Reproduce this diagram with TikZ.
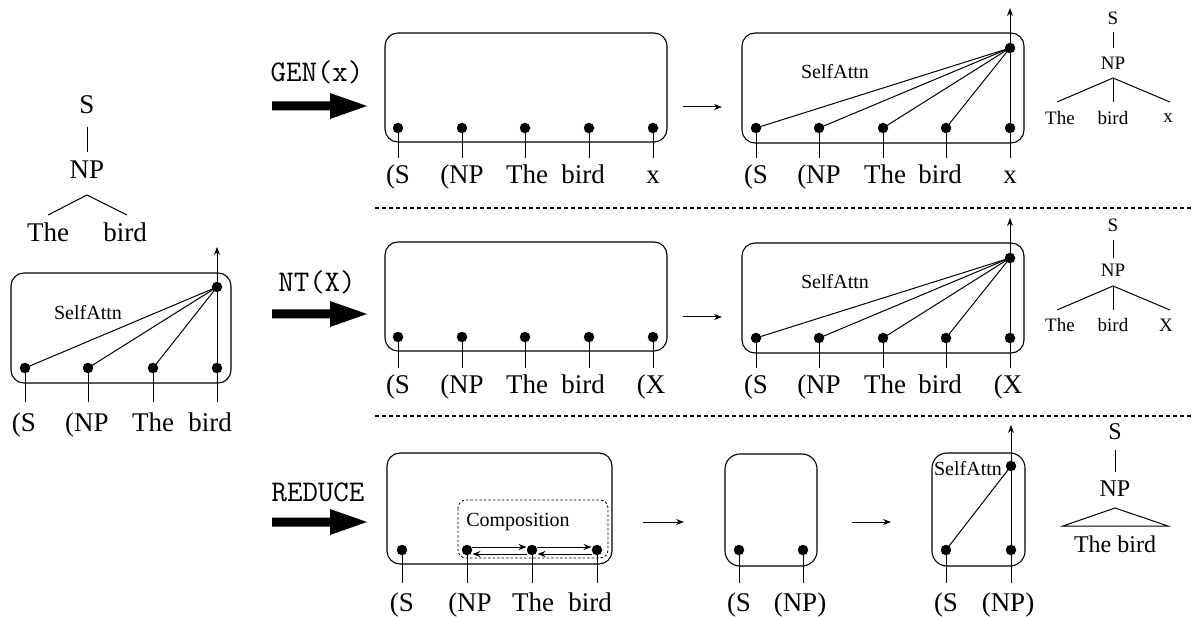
\documentclass[tikz,border=0pt]{standalone}
\usepackage{fontspec}
\setmainfont{Liberation Serif}
\usetikzlibrary{arrows.meta}
\begin{document}
\begin{tikzpicture}[x=1pt,y=-1pt,
  dot/.style={circle,fill,inner sep=0pt,minimum size=10.5pt},
  box/.style={draw,rounded corners=13pt,line width=1.1pt},
  big/.style={font=\fontsize{27}{30}\selectfont,inner sep=0pt},
  med/.style={font=\fontsize{24}{27}\selectfont,inner sep=0pt},
  sm/.style={font=\fontsize{19}{22}\selectfont,inner sep=0pt},
  attn/.style={font=\fontsize{20}{23}\selectfont,inner sep=0pt},
  op/.style={font=\ttfamily\fontsize{30}{33}\selectfont,inner sep=0pt},
  ln/.style={line width=1pt},
  arr/.style={line width=1pt,-{Stealth[length=8pt,width=6pt]}},
  sep/.style={line width=1.1pt,dash pattern=on 4pt off 3pt},
  comp/.style={draw,rounded corners=8pt,line width=0.8pt,dash pattern=on 2.5pt off 2pt}
]
\useasboundingbox (0,0) rectangle (1192,617);

% ---------- left panel ----------
\node[big] (lS) at (87,105) {S};
\node[big] (lNP) at (87,170) {NP};
\draw[ln] (lS.center) ++(0,22) -- ++(0,25);
\coordinate (lo) at (87,195);
\coordinate (le1) at (48,215);
\coordinate (le2) at (127,215);
\draw[ln] (le1) -- (lo) -- (le2);
\node[big] (lThe) at (48,232) {The};
\node[big] (lbird) at (125,232) {bird};

\draw[box] (11,273) rectangle (231,383);
\node[attn] (lattn) at (88,313) {SelfAttn};
\node[dot] (lt) at (217,287) {};
\coordinate (ltip) at (217,247);
\foreach \n/\x in {1/25,2/88,3/153,4/217}{
  \node[dot] (l\n) at (\x,368) {};
  \coordinate (ls\n) at (\x,402);
  \draw[ln] (l\n.center) -- (ls\n);
}
\foreach \n in {1,2,3} \draw[ln] (l\n.center) -- (lt.center);
\draw[arr] (l4.center) -- (ltip);
\node[big,anchor=base] (ll1) at (24,432) {(S};
\node[big,anchor=base] (ll2) at (87,432) {(NP};
\node[big,anchor=base] (ll3) at (153,432) {The};
\node[big,anchor=base] (ll4) at (210,432) {bird};

% ---------- row 1 : GEN(x) ----------
\node[op] (op1) at (317,72) {GEN(x)};
\fill (272,101.5) -- (330,101.5) -- (330,93) -- (367,106) -- (330,119) -- (330,110.5) -- (272,110.5) -- cycle;

\draw[box] (385,33) rectangle (667,142);
\foreach \n/\x in {1/398,2/462,3/525,4/589,5/653}{
  \node[dot] (a\n) at (\x,128) {};
  \coordinate (as\n) at (\x,158);
  \draw[ln] (a\n.center) -- (as\n);
}
\node[big,anchor=base] (al1) at (398,184) {(S};
\node[big,anchor=base] (al2) at (462,184) {(NP};
\node[big,anchor=base] (al3) at (527,184) {The};
\node[big,anchor=base] (al4) at (583,184) {bird};
\node[big,anchor=base] (al5) at (653,184) {x};

\coordinate (r1f) at (683,107);
\coordinate (r1t) at (722,107);
\draw[arr] (r1f) -- (r1t);

\draw[box] (742,33) rectangle (1024,143);
\node[attn] (battn) at (835,72) {SelfAttn};
\node[dot] (bt) at (1010,48) {};
\coordinate (btip) at (1010,8);
\foreach \n/\x in {1/756,2/819,3/883,4/946,5/1010}{
  \node[dot] (b\n) at (\x,128) {};
  \coordinate (bs\n) at (\x,158);
  \draw[ln] (b\n.center) -- (bs\n);
}
\foreach \n in {1,2,3,4} \draw[ln] (b\n.center) -- (bt.center);
\draw[arr] (b5.center) -- (btip);
\node[big,anchor=base] (bl1) at (756,184) {(S};
\node[big,anchor=base] (bl2) at (819,184) {(NP};
\node[big,anchor=base] (bl3) at (885,184) {The};
\node[big,anchor=base] (bl4) at (940,184) {bird};
\node[big,anchor=base] (bl5) at (1010,184) {x};

\node[sm] (t1S) at (1113,18) {S};
\node[sm] (t1NP) at (1113,63) {NP};
\draw[ln] (t1S.center) ++(0,14) -- ++(0,16);
\coordinate (t1o) at (1113,78);
\coordinate (t1e1) at (1057,102);
\coordinate (t1e2) at (1113,102);
\coordinate (t1e3) at (1170,102);
\draw[ln] (t1e1) -- (t1o) -- (t1e3);
\draw[ln] (t1o) -- (t1e2);
\node[sm] (t1a) at (1060,118) {The};
\node[sm] (t1b) at (1113,118) {bird};
\node[sm] (t1c) at (1168,118) {x};

\coordinate (d1a) at (375,208);
\coordinate (d1b) at (1192,208);
\draw[sep] (d1a) -- (d1b);

% ---------- row 2 : NT(X) ----------
\node[op] (op2) at (317,282) {NT(X)};
\fill (272,309.5) -- (330,309.5) -- (330,301) -- (367,314) -- (330,327) -- (330,318.5) -- (272,318.5) -- cycle;

\draw[box] (385,242) rectangle (667,351);
\foreach \n/\x in {1/398,2/462,3/525,4/589,5/653}{
  \node[dot] (c\n) at (\x,337) {};
  \coordinate (cs\n) at (\x,368);
  \draw[ln] (c\n.center) -- (cs\n);
}
\node[big,anchor=base] (cl1) at (398,394) {(S};
\node[big,anchor=base] (cl2) at (462,394) {(NP};
\node[big,anchor=base] (cl3) at (527,394) {The};
\node[big,anchor=base] (cl4) at (583,394) {bird};
\node[big,anchor=base] (cl5) at (651,394) {(X};

\coordinate (r2f) at (683,317);
\coordinate (r2t) at (722,317);
\draw[arr] (r2f) -- (r2t);

\draw[box] (742,243) rectangle (1024,353);
\node[attn] (dattn) at (835,282) {SelfAttn};
\node[dot] (dt) at (1010,258) {};
\coordinate (dtip) at (1010,218);
\foreach \n/\x in {1/756,2/819,3/883,4/946,5/1010}{
  \node[dot] (d\n) at (\x,338) {};
  \coordinate (ds\n) at (\x,368);
  \draw[ln] (d\n.center) -- (ds\n);
}
\foreach \n in {1,2,3,4} \draw[ln] (d\n.center) -- (dt.center);
\draw[arr] (d5.center) -- (dtip);
\node[big,anchor=base] (dl1) at (756,394) {(S};
\node[big,anchor=base] (dl2) at (819,394) {(NP};
\node[big,anchor=base] (dl3) at (885,394) {The};
\node[big,anchor=base] (dl4) at (940,394) {bird};
\node[big,anchor=base] (dl5) at (1008,394) {(X};

\node[sm] (t2S) at (1113,225) {S};
\node[sm] (t2NP) at (1113,270) {NP};
\draw[ln] (t2S.center) ++(0,15) -- ++(0,18);
\coordinate (t2o) at (1113,286);
\coordinate (t2e1) at (1057,310);
\coordinate (t2e2) at (1113,310);
\coordinate (t2e3) at (1170,310);
\draw[ln] (t2e1) -- (t2o) -- (t2e3);
\draw[ln] (t2o) -- (t2e2);
\node[sm] (t2a) at (1060,325) {The};
\node[sm] (t2b) at (1113,325) {bird};
\node[sm] (t2c) at (1166,325) {X};

\coordinate (d2a) at (375,416);
\coordinate (d2b) at (1192,416);
\draw[sep] (d2a) -- (d2b);

% ---------- row 3 : REDUCE ----------
\node[op] (op3) at (318,492) {REDUCE};
\fill (272,517.5) -- (330,517.5) -- (330,509) -- (367,522) -- (330,535) -- (330,526.5) -- (272,526.5) -- cycle;

\draw[box] (387,453) rectangle (612,564);
\draw[comp] (458,500) rectangle (608,558);
\node[attn] (compl) at (518,522) {Composition};
\foreach \n/\x in {1/402,2/467,3/532,4/597}{
  \node[dot] (e\n) at (\x,550) {};
  \coordinate (es\n) at (\x,583);
  \draw[ln] (e\n.center) -- (es\n);
}
\draw[arr] ([yshift=3pt]e2.east) -- ([yshift=3pt]e3.west);
\draw[arr] ([yshift=-4pt]e3.west) -- ([yshift=-4pt]e2.east);
\draw[arr] ([yshift=3pt]e3.east) -- ([yshift=3pt]e4.west);
\draw[arr] ([yshift=-4pt]e4.west) -- ([yshift=-4pt]e3.east);
\node[big,anchor=base] (el1) at (402,611) {(S};
\node[big,anchor=base] (el2) at (470,611) {(NP};
\node[big,anchor=base] (el3) at (533,611) {The};
\node[big,anchor=base] (el4) at (590,611) {bird};

\coordinate (r3f) at (643,522);
\coordinate (r3t) at (684,522);
\draw[arr] (r3f) -- (r3t);

\draw[box,rounded corners=15pt] (725,454) rectangle (817,566);
\foreach \n/\x in {1/739,2/803}{
  \node[dot] (f\n) at (\x,550) {};
  \coordinate (fs\n) at (\x,583);
  \draw[ln] (f\n.center) -- (fs\n);
}
\node[big,anchor=base] (fl1) at (739,611) {(S};
\node[big,anchor=base] (fl2) at (800,611) {(NP)};

\coordinate (r4f) at (852,522);
\coordinate (r4t) at (891,522);
\draw[arr] (r4f) -- (r4t);

\draw[box,rounded corners=15pt] (932,453) rectangle (1025,566);
\node[attn] (gattn) at (968,469) {SelfAttn};
\node[dot] (gt) at (1011,466) {};
\coordinate (gtip) at (1011,425);
\foreach \n/\x in {1/946,2/1011}{
  \node[dot] (g\n) at (\x,550) {};
  \coordinate (gs\n) at (\x,583);
  \draw[ln] (g\n.center) -- (gs\n);
}
\draw[ln] (g1.center) -- (gt.center);
\draw[arr] (g2.center) -- (gtip);
\node[big,anchor=base] (gl1) at (946,611) {(S};
\node[big,anchor=base] (gl2) at (1008,611) {(NP)};

\node[med] (t3S) at (1115,432) {S};
\node[med] (t3NP) at (1115,489) {NP};
\draw[ln] (t3S.center) ++(0,18) -- ++(0,22);
\coordinate (t3o) at (1115,508);
\coordinate (t3e1) at (1063,526);
\coordinate (t3e2) at (1168,526);
\draw[ln] (t3e1) -- (t3o) -- (t3e2) -- cycle;
\node[med] (t3l) at (1115,544) {The bird};
\end{tikzpicture}
\end{document}
